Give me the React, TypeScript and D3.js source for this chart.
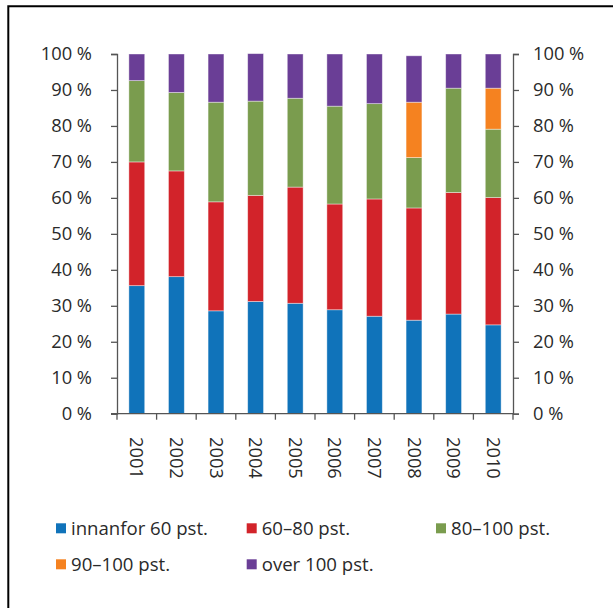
import React, { useEffect, useRef } from 'react';
import * as d3 from 'd3';

// years on the x axis
const years = ['2001', '2002', '2003', '2004', '2005', '2006', '2007', '2008', '2009', '2010'];

// share of each band (percent)
const innanfor60 = [35.6, 38.1, 28.6, 31.2, 30.7, 28.9, 27.1, 26.0, 27.7, 24.7];
const pst60to80 = [34.4, 29.4, 30.3, 29.5, 32.3, 29.4, 32.6, 31.2, 33.8, 35.4];
const pst80to100 = [22.6, 21.8, 27.7, 26.2, 24.7, 27.2, 26.5, 14.0, 29.0, 19.0];
const pst90to100 = [0, 0, 0, 0, 0, 0, 0, 15.4, 0, 11.4];
const over100 = [7.4, 10.7, 13.4, 13.2, 12.3, 14.5, 13.8, 12.9, 9.5, 9.5];

const seriesNames = ['innanfor 60 pst.', '60–80 pst.', '80–100 pst.', '90–100 pst.', 'over 100 pst.'];
const seriesColors = ['#1073ba', '#d2232a', '#7a9c4e', '#f58220', '#6a3e96'];
const yTicks = [0, 10, 20, 30, 40, 50, 60, 70, 80, 90, 100];

const W = 613;
const H = 608;
const FONT = '"Open Sans", sans-serif';
const TEXT = '#2a2a2a';
const AXIS = '#555';

export default function App() {
  const svgRef = useRef<SVGSVGElement>(null);

  useEffect(() => {
    if (!svgRef.current) return;
    const svg = d3.select(svgRef.current);
    svg.selectAll('*').remove();

    // frame, only left and top edges are visible
    svg.append('path')
      .attr('d', `M8.3,${H} L8.3,6.3 L${W},6.3`)
      .attr('fill', 'none')
      .attr('stroke', '#000')
      .attr('stroke-width', 2);

    const left = 117, right = 513, top = 54, bottom = 413.7;

    const x = d3.scaleBand<string>()
      .domain(years)
      .range([left, right])
      .paddingInner(0.6)
      .paddingOuter(0.3);

    const y = d3.scaleLinear().domain([0, 100]).range([bottom, top]);

    const table = years.map((yr, i) => ({
      year: yr,
      s0: innanfor60[i],
      s1: pst60to80[i],
      s2: pst80to100[i],
      s3: pst90to100[i],
      s4: over100[i],
    }));
    const keys = ['s0', 's1', 's2', 's3', 's4'];
    const stacked = d3.stack<any>().keys(keys)(table);

    // bars
    svg.append('g')
      .selectAll('g')
      .data(stacked)
      .enter()
      .append('g')
      .attr('fill', (_d, i) => seriesColors[i])
      .selectAll('rect')
      .data(d => d.filter(p => p[1] - p[0] > 0))
      .enter()
      .append('rect')
      .attr('x', d => x(d.data.year)!)
      .attr('width', x.bandwidth())
      .attr('y', d => y(d[1]))
      .attr('height', d => y(d[0]) - y(d[1]))
      .attr('stroke', '#fff')
      .attr('stroke-opacity', 0.5)
      .attr('stroke-width', 0.8);

    const styleAxis = (g: any) => {
      g.select('.domain').attr('stroke', AXIS).attr('stroke-width', 1.3);
      g.selectAll('.tick line').attr('stroke', AXIS).attr('stroke-width', 1.3);
      g.selectAll('.tick text')
        .attr('fill', TEXT)
        .style('font-family', FONT)
        .style('font-size', '18.3px');
    };

    // left axis
    const yl = svg.append('g')
      .attr('transform', `translate(${left},0)`)
      .call(d3.axisLeft(y).tickValues(yTicks).tickSize(6).tickSizeOuter(6).tickPadding(19).tickFormat(d => `${d} %`));
    styleAxis(yl);

    // right axis
    const yr = svg.append('g')
      .attr('transform', `translate(${right},0)`)
      .call(d3.axisRight(y).tickValues(yTicks).tickSize(6).tickSizeOuter(6).tickPadding(14).tickFormat(d => `${d} %`));
    styleAxis(yr);

    // bottom axis, ticks at category boundaries
    const step = x.step();
    const bounds = d3.range(years.length + 1).map(i => left + i * step);
    const xb = svg.append('g').attr('transform', `translate(0,${bottom})`);
    xb.append('line')
      .attr('x1', left - 6).attr('x2', right)
      .attr('stroke', AXIS).attr('stroke-width', 1.3);
    xb.selectAll('line.tk')
      .data(bounds)
      .enter()
      .append('line')
      .attr('class', 'tk')
      .attr('x1', d => d).attr('x2', d => d)
      .attr('y1', 0).attr('y2', 6)
      .attr('stroke', AXIS).attr('stroke-width', 1.3);
    xb.selectAll('text')
      .data(years)
      .enter()
      .append('text')
      .attr('transform', d => `translate(${x(d)! + x.bandwidth() / 2},${437 - bottom}) rotate(90)`)
      .attr('dy', '0.35em')
      .attr('fill', TEXT)
      .style('font-family', FONT)
      .style('font-size', '18.3px')
      .text(d => d);

    // legend
    const legX = [56, 246.7, 436];
    const legY = [523.3, 559.3];
    const leg = svg.append('g')
      .selectAll('g')
      .data(seriesNames)
      .enter()
      .append('g')
      .attr('transform', (_d, i) => `translate(${legX[i % 3]},${legY[Math.floor(i / 3)]})`);
    leg.append('rect')
      .attr('width', 10).attr('height', 10)
      .attr('fill', (_d, i) => seriesColors[i]);
    leg.append('text')
      .attr('x', 15)
      .attr('y', 5)
      .attr('dy', '0.35em')
      .attr('fill', TEXT)
      .style('font-family', FONT)
      .style('font-size', '18.6px')
      .text(d => d);
  }, []);

  return (
    <svg
      ref={svgRef}
      width={W}
      height={H}
      style={{ position: 'absolute', left: 0, top: 0, background: '#fff' }}
    />
  );
}
